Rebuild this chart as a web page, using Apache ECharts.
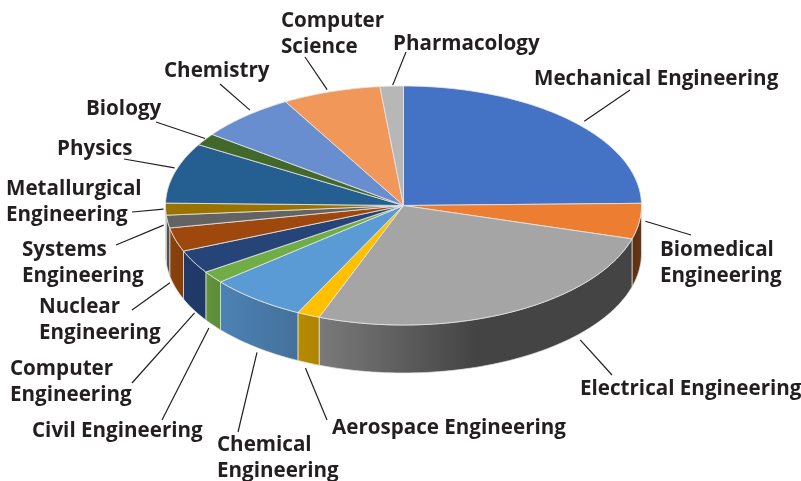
<!DOCTYPE html>
<html><head><meta charset="utf-8">
<style>html,body{margin:0;padding:0;background:#fff}#c{width:801px;height:481px}</style>
<script src="https://cdn.jsdelivr.net/npm/echarts@6/dist/echarts.min.js"></script>
</head><body><div id="c"></div>
<script>
const categories = ['Mechanical Engineering','Biomedical\nEngineering','Electrical Engineering','Aerospace Engineering','Chemical\nEngineering','Civil Engineering','Computer\nEngineering','Nuclear\nEngineering','Systems\nEngineering','Metallurgical\nEngineering','Physics','Biology','Chemistry','Computer\nScience','Pharmacology'];
const values = [24.7,4.8,26.25,1.55,6.64,1.64,3.17,3.22,1.72,1.61,8.17,1.64,6.61,6.67,1.58];

const topColors = ['#4472C4','#ED7D31','#A5A5A5','#FFC000','#5B9BD5','#70AD47','#264478','#9E480E','#636363','#997300','#255E91','#43682B','#698ED0','#F1975A','#B7B7B7'];
const sideColors = [['#2c4a80','#2c4a80'],['#5a2f14','#6a3616'],['#7a7a7a','#444444'],['#b88b00','#ad8300'],['#4c82b4','#44719b'],['#62953c','#5c8c38'],['#20396a','#1f3a66'],['#8a420d','#843e0b'],['#555555','#4e4e4e'],['#806000','#806000'],['#1f4f7a','#1f4f7a'],['#38571f','#38571f'],['#587ab2','#587ab2'],['#cd814c','#cd814c'],['#9c9c9c','#9c9c9c']];
const sideGradientEnd = [1,1,0.5,1,1,1,1,1,1,1,1,1,1,1,1];

const labelLayout = [
 {x:534,y:79, end:[630,90], nudge:[14,1]},
 {x:660,y:263,end:[691,235],nudge:[6,0]},
 {x:580,y:389,end:[612,375],nudge:[70.5,-20.5],front:1},
 {x:332,y:428,end:[327,420],nudge:[-3,5],front:1},
 {x:217,y:458,end:[238,432],nudge:[1,5],front:1},
 {x:32, y:431,end:[162,420],nudge:[-4,3],front:1},
 {x:10, y:382,end:[132,383],nudge:[1,3],front:1},
 {x:39, y:320,end:[132,310],nudge:[-5.5,-5],front:1},
 {x:22, y:263,end:[116,245],nudge:[-4,3.5]},
 {x:6,  y:202,end:[132,212],nudge:[-2,0]},
 {x:57, y:149,end:[124,159],nudge:[0,-5]},
 {x:86, y:109,end:[156,122],nudge:[0,-1]},
 {x:164,y:71, end:[220,84], nudge:[4.5,-6]},
 {x:281,y:34, end:[305,57], nudge:[-4,-2]},
 {x:393,y:44, end:[406,52], nudge:[1,-1]}
];

const CX=403.5, CY=205.5, RX=238, RY=119.5, DEPTH=48;
const total = values.reduce((a,b)=>a+b,0);
const DEG = Math.PI/180;
const bounds=[0]; values.forEach(v=>bounds.push(bounds[bounds.length-1]+v/total*360));
const pt=(t,dy=0)=>[CX+RX*Math.sin(t*DEG), CY-RY*Math.cos(t*DEG)+dy];
function arc(a,b,dy=0){const n=Math.max(2,Math.ceil((b-a)/1.5));const o=[];for(let i=0;i<=n;i++)o.push(pt(a+(b-a)*i/n,dy));return o;}

const BORDER='#e6e6e6', INK='#231f20';
function renderItem(params,api){
  const i=params.dataIndex, a=bounds[i], b=bounds[i+1];
  const kids=[];
  const sa=Math.max(a,90), sb=Math.min(b,270);
  if(sb>sa){
    const up=arc(sa,sb), low=arc(sa,sb,DEPTH).reverse();
    const c=sideColors[i];
    const fill=new echarts.graphic.LinearGradient(0,0,1,0,[{offset:0,color:c[0]},{offset:sideGradientEnd[i],color:c[1]},{offset:1,color:c[1]}]);
    kids.push({type:'polygon',z2:1,shape:{points:up.concat(low)},style:{fill,stroke:BORDER,lineWidth:0.7}});
  }
  kids.push({type:'polygon',z2:2,shape:{points:[[CX,CY]].concat(arc(a,b))},style:{fill:topColors[i],stroke:BORDER,lineWidth:0.8}});
  const L=labelLayout[i], p=pt((a+b)/2, L.front?DEPTH:0);
  kids.push({type:'line',z2:3,shape:{x1:p[0]+L.nudge[0],y1:p[1]+L.nudge[1],x2:L.end[0],y2:L.end[1]},style:{stroke:INK,lineWidth:1.2}});
  kids.push({type:'text',z2:4,style:{x:L.x,y:L.y,text:categories[i],fill:INK,font:'700 20.6px "Open Sans"',lineHeight:25.5,verticalAlign:'middle'}});
  return {type:'group',children:kids};
}
const chart=echarts.init(document.getElementById('c'),null,{renderer:'canvas'});
chart.setOption({animation:false,backgroundColor:'#fff',
 series:[{type:'custom',coordinateSystem:'none',silent:true,renderItem,data:values.map((v,i)=>({name:categories[i],value:v}))}]});
</script></body></html>
